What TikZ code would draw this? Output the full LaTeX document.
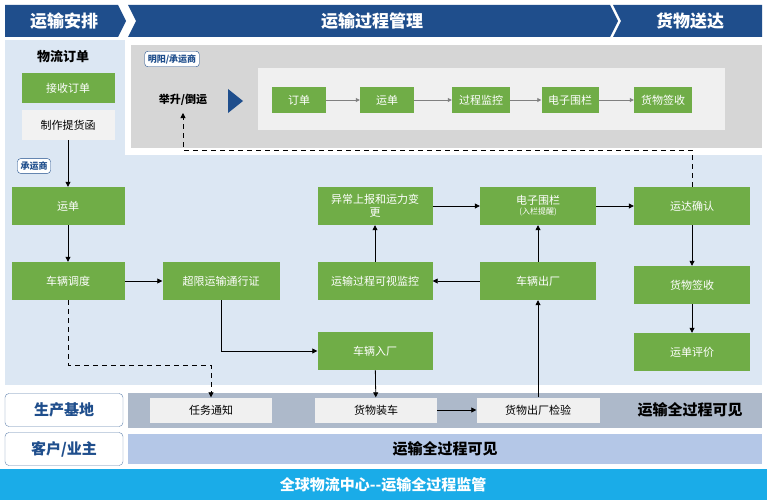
\documentclass[tikz,border=0pt]{standalone}
\usepackage{fontspec}
\setmainfont{Noto Sans CJK SC}
\usetikzlibrary{arrows.meta,calc}
\definecolor{hdr}{HTML}{1F4E8C}
\definecolor{lb}{HTML}{DCE7F3}
\definecolor{gr}{HTML}{70AD47}
\definecolor{gy}{HTML}{D6D6D6}
\definecolor{band}{HTML}{ADB9CA}
\definecolor{band2}{HTML}{B4C7E7}
\definecolor{cy}{HTML}{1AACE8}
\tikzset{
 g/.style={fill=gr,text=white,font=\fontsize{11}{13}\selectfont,align=center,inner sep=1pt},
 w/.style={fill=black!6,text=black,font=\fontsize{11}{13}\selectfont,align=center,inner sep=1pt},
 ar/.style={-{Triangle[length=5pt,width=5pt]},line width=0.8pt},
 da/.style={ar,dashed,dash pattern=on 5pt off 4pt},
 ga/.style={-{Triangle[length=4pt,width=4pt]},gray,line width=0.8pt},
 tag/.style={draw=hdr,fill=white,text=hdr,font=\fontsize{9}{10}\selectfont\bfseries,rounded corners=3pt,inner sep=3pt}
}
\begin{document}
\begin{tikzpicture}[x=1pt,y=-1pt]
\useasboundingbox (0,0) rectangle (767,500);
\fill[white] (0,0) rectangle (767,500);
% header
\fill[hdr] (5,5) -- (118,5) -- (126,21) -- (118,37) -- (5,37) -- cycle;
\fill[hdr] (128,5) -- (610,5) -- (618,21) -- (610,37) -- (128,37) -- (136,21) -- cycle;
\fill[hdr] (613,5) -- (762,5) -- (762,37) -- (613,37) -- (621,21) -- cycle;
\node[text=white,font=\fontsize{17}{18}\selectfont\bfseries] (h1) at (64,21) {运输安排};
\node[text=white,font=\fontsize{17}{18}\selectfont\bfseries] (h2) at (372,21) {运输过程管理};
\node[text=white,font=\fontsize{17}{18}\selectfont\bfseries] (h3) at (690,21) {货物送达};
% backgrounds
\fill[lb] (5,40) rectangle (125,155);
\fill[lb] (5,155) rectangle (762,385);
\fill[white] (125,40) rectangle (762,155);
\fill[gy] (131,45) rectangle (762,148);
\fill[black!6] (258,68) rectangle (725,130);
% top-left
\node[font=\fontsize{13}{15}\selectfont\bfseries] (wl) at (63,57) {物流订单};
\node[g,minimum width=93,minimum height=30] (js) at (68,88) {接收订单};
\node[w,fill=black!5,minimum width=93,minimum height=30] (zz) at (68,125) {制作提货函};
\node[tag] (t1) at (172,59) {明阳/承运商};
\node[tag] (t2) at (34,166) {承运商};
\node[font=\fontsize{11}{13}\selectfont\bfseries] (jj) at (183,100) {举升/倒运};
\fill[hdr] (228,89) -- (243,101) -- (228,113) -- cycle;
\node[g,minimum width=54,minimum height=25] (a1) at (299,100) {订单};
\node[g,minimum width=54,minimum height=25] (a2) at (387,100) {运单};
\node[g,minimum width=58,minimum height=25] (a3) at (481,100) {过程监控};
\node[g,minimum width=57,minimum height=25] (a4) at (570,100) {电子围栏};
\node[g,minimum width=58,minimum height=25] (a5) at (663,100) {货物签收};
\draw[ga] (a1) -- (a2); \draw[ga] (a2) -- (a3); \draw[ga] (a3) -- (a4); \draw[ga] (a4) -- (a5);
% main boxes
\tikzset{m/.style={g,minimum width=115,minimum height=38}}
\node[m,minimum width=113] (yd) at (68,206) {运单};
\node[m,minimum width=113] (cd) at (68,281) {车辆调度};
\node[m,minimum width=117] (cx) at (221,281) {超限运输通行证};
\node[m] (rc) at (375,351) {车辆入厂};
\node[m] (jk) at (375,281) {运输过程可视监控};
\node[m,text width=108] (yc) at (375,206) {异常上报和运力变\\更};
\node[m,minimum width=116] (wl2) at (538,206) {电子围栏\\[-3pt]{\fontsize{8}{9}\selectfont (入栏提醒)}};
\node[m,minimum width=116] (cc) at (538,281) {车辆出厂};
\node[m,minimum width=116] (qr) at (692,206) {运达确认};
\node[m,minimum width=116] (qs) at (692,285) {货物签收};
\node[m,minimum width=116] (pj) at (692,352) {运单评价};
% bottom
\fill[band] (128,393) rectangle (762,428);
\fill[band2] (128,434) rectangle (762,464);
\fill[cy] (0,469) rectangle (767,500);
\node[draw=hdr!70,fill=white,text=hdr,font=\fontsize{15}{16}\selectfont\bfseries,minimum width=118,minimum height=33,rounded corners=4pt] (sc) at (64,410) {生产基地};
\node[draw=hdr!70,fill=white,text=hdr,font=\fontsize{15}{16}\selectfont\bfseries,minimum width=118,minimum height=33,rounded corners=4pt] (kh) at (64,449) {客户/业主};
\node[w,minimum width=122,minimum height=25] (rw) at (211,410) {任务通知};
\node[w,minimum width=122,minimum height=25] (zc) at (376,410) {货物装车};
\node[w,minimum width=123,minimum height=25] (jy) at (538,410) {货物出厂检验};
\node[font=\fontsize{15}{16}\selectfont\bfseries] (kj1) at (690,410) {运输全过程可见};
\node[font=\fontsize{15}{16}\selectfont\bfseries] (kj2) at (445,449) {运输全过程可见};
\node[text=white,font=\fontsize{15}{16}\selectfont\bfseries] (qq) at (383,485) {全球物流中心{-}{-}运输全过程监管};
% connectors
\draw[ar] (zz) -- (yd);
\draw[ar] (yd) -- (cd);
\draw[ar] (cd) -- (cx);
\draw[da] (cd.south) -- (68,365) -- (211,365) -- (rw.north);
\draw[ar] (cx.south) -- (221,351) -- (rc.west);
\draw[ar] (rc) -- (zc);
\draw[ar] (zc) -- (jy);
\draw[ar] (jy.north) -- (cc.south);
\draw[ar] (cc) -- (jk);
\draw[ar] (cc) -- (wl2);
\draw[ar] (jk) -- (yc);
\draw[ar] (yc) -- (wl2);
\draw[ar] (wl2) -- (qr);
\draw[ar] (qr) -- (qs);
\draw[ar] (qs) -- (pj);
\draw[da] (qr.north) -- (692,150) -- (183,150) -- (183,113);
\end{tikzpicture}
\end{document}
